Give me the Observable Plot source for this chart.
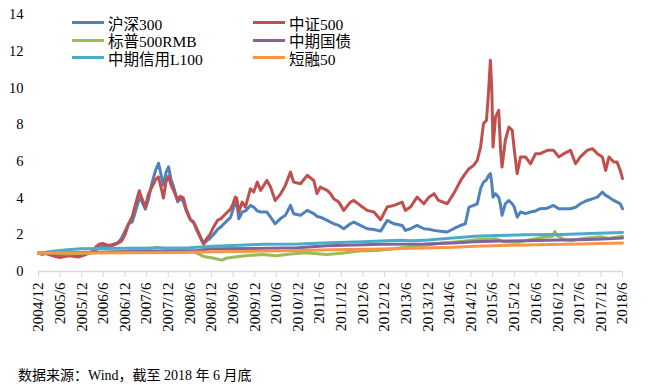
<!DOCTYPE html>
<html><head><meta charset="utf-8">
<script src="https://cdn.jsdelivr.net/npm/d3@7"></script>
<script src="https://cdn.jsdelivr.net/npm/@observablehq/plot@0.6"></script>
<style>
body{margin:0;background:#fff;}
#wrap{position:relative;width:659px;height:385px;overflow:hidden;}
#legend{position:absolute;left:72px;top:14px;display:grid;grid-template-columns:181px auto;grid-auto-rows:17.5px;font-family:"Liberation Serif","Noto Sans CJK SC",serif;font-size:15.5px;color:#000;}
#legend .it{display:flex;align-items:center;white-space:nowrap;}
#legend .sw{width:32px;height:3px;margin-right:4px;}
#cap{padding-left:18px;font-family:"Liberation Serif","Noto Sans CJK SC",serif;font-size:14px;line-height:20px;color:#000;}
</style></head>
<body><div id="wrap"><div id="chart"></div><div id="legend"></div><div id="cap">数据来源：Wind，截至 2018 年 6 月底</div></div>
<script>
const seriesNames = ["沪深300","中证500","标普500RMB","中期国债","中期信用L100","短融50"];
const seriesColors = ["#4f81bd","#c0504d","#9bbb59","#8064a2","#4bacc6","#f79646"];
const legendOrder = ["沪深300","中证500","标普500RMB","中期国债","中期信用L100","短融50"];
const tickLabels = ["2004/12","2005/6","2005/12","2006/6","2006/12","2007/6","2007/12","2008/6","2008/12","2009/6","2009/12","2010/6","2010/12","2011/6","2011/12","2012/6","2012/12","2013/6","2013/12","2014/6","2014/12","2015/6","2015/12","2016/6","2016/12","2017/6","2017/12","2018/6"];
const yTicks = [0,2,4,6,8,10,12,14];

const eqDates = ["2004-12-01","2005-01-01","2005-02-01","2005-03-01","2005-04-01","2005-05-01","2005-06-01","2005-07-01","2005-08-01","2005-09-01","2005-10-01","2005-11-01","2005-12-01",
"2006-01-01","2006-02-01","2006-03-01","2006-04-01","2006-05-01","2006-06-01","2006-07-01","2006-08-01","2006-09-01","2006-10-01","2006-11-01","2006-12-01",
"2007-01-01","2007-02-01","2007-03-01","2007-04-01","2007-04-16","2007-05-22","2007-06-16","2007-07-16","2007-08-16","2007-09-10","2007-10-01","2007-10-22","2007-11-13","2007-12-04","2007-12-25",
"2008-01-16","2008-02-19","2008-03-13","2008-04-07","2008-05-01","2008-06-07","2008-07-01","2008-08-01","2008-09-01","2008-09-25","2008-10-16","2008-11-16","2008-12-16",
"2009-01-22","2009-02-16","2009-03-16","2009-04-16","2009-05-10","2009-06-01","2009-06-19","2009-07-01","2009-07-19","2009-08-16","2009-09-13","2009-10-25","2009-11-22","2009-12-22",
"2010-01-19","2010-03-13","2010-04-13","2010-05-22","2010-07-04","2010-08-16","2010-09-28","2010-10-25","2010-12-22",
"2011-02-16","2011-04-13","2011-05-10","2011-06-07","2011-08-04","2011-09-01","2011-09-28","2011-11-10","2011-12-22",
"2012-02-16","2012-03-16","2012-05-10","2012-07-07","2012-09-01","2012-10-28","2012-12-22",
"2013-02-19","2013-04-28","2013-05-25","2013-07-07","2013-09-01","2013-10-28","2013-12-10",
"2014-01-22","2014-03-01","2014-05-13","2014-07-07","2014-09-04","2014-10-13","2014-11-13","2014-12-22",
"2015-01-22","2015-02-19","2015-03-16","2015-04-10","2015-04-28","2015-05-13","2015-05-25","2015-06-04","2015-06-25","2015-07-22","2015-08-07","2015-08-19","2015-09-16","2015-10-16","2015-11-13","2015-12-01","2015-12-25",
"2016-01-22","2016-03-04","2016-04-16","2016-05-28","2016-07-07","2016-09-04","2016-10-28","2016-12-10",
"2017-01-22","2017-03-19","2017-05-01","2017-06-10","2017-08-07","2017-09-19","2017-11-01","2017-12-13",
"2018-01-10","2018-02-07","2018-03-19","2018-04-16","2018-05-13","2018-06-01"];
const hs300 = [1.00,0.95,0.99,0.95,0.90,0.86,0.84,0.87,0.91,0.92,0.89,0.87,0.90,
0.96,1.02,1.06,1.18,1.32,1.40,1.36,1.38,1.45,1.55,1.80,2.20,
2.60,2.70,3.30,4.00,3.90,3.40,3.90,4.80,5.50,5.90,5.30,4.70,5.40,5.70,5.00,
4.60,3.80,4.00,3.80,3.30,2.80,2.70,2.20,1.80,1.50,1.65,1.80,2.00,
2.30,2.42,2.60,2.80,2.95,3.40,3.70,3.85,2.87,3.24,3.30,3.60,3.51,3.30,
3.24,3.24,2.96,2.60,2.87,3.06,3.60,3.15,3.06,
3.33,3.15,3.00,2.96,2.78,2.69,2.60,2.51,2.33,
2.60,2.69,2.51,2.33,2.29,2.20,2.78,
2.60,2.51,2.24,2.33,2.51,2.33,2.30,
2.24,2.20,2.15,2.33,2.51,2.60,3.51,3.60,
3.69,4.51,4.87,5.00,5.24,5.33,4.80,4.05,4.24,4.05,3.60,3.06,3.69,3.87,3.69,3.50,2.96,
3.24,3.15,3.24,3.30,3.42,3.45,3.60,3.42,
3.42,3.42,3.50,3.69,3.87,3.96,4.05,4.33,
4.15,4.05,3.87,3.78,3.69,3.42];
const zz500 = [1.00,0.94,0.98,0.92,0.86,0.80,0.76,0.80,0.84,0.86,0.81,0.79,0.84,
0.92,1.00,1.08,1.35,1.50,1.52,1.45,1.43,1.50,1.55,1.65,2.00,
2.60,3.00,3.70,4.40,4.10,3.50,4.20,4.60,5.00,5.15,4.60,4.00,4.90,5.20,4.70,
4.40,3.90,4.10,4.00,3.40,2.80,2.70,2.30,1.85,1.50,1.75,2.00,2.40,
2.80,2.87,3.05,3.25,3.40,3.70,4.05,4.00,3.24,3.78,3.51,4.51,4.33,4.87,
4.42,4.96,4.60,3.87,4.20,4.69,5.42,4.87,4.78,
5.24,4.96,4.24,4.60,4.42,4.24,3.96,3.78,3.33,
3.78,3.87,3.60,3.33,3.24,2.82,3.51,
3.60,3.78,3.33,3.51,4.05,3.69,4.05,
4.24,3.87,3.69,4.24,4.96,5.33,5.60,5.78,
6.06,6.78,8.06,8.24,9.87,11.51,9.87,6.78,8.42,8.78,6.60,5.69,7.15,7.87,7.69,6.60,5.33,
6.24,6.24,5.87,6.42,6.42,6.60,6.60,6.24,
6.42,6.60,5.87,6.24,6.60,6.69,6.42,6.24,
5.51,6.24,5.96,5.96,5.51,5.06];

const spDates = ["2004-12-01","2005-03-01","2005-07-01","2005-12-01","2006-06-01","2006-12-01","2007-06-01","2007-09-01","2007-12-01","2008-04-01","2008-07-01","2008-09-25","2008-12-01","2009-02-28","2009-04-01","2009-07-01","2009-10-01","2010-02-01","2010-06-01","2010-10-01","2011-02-01","2011-08-01","2011-12-01","2012-05-01","2012-10-01","2013-02-01","2013-07-01","2013-11-01","2014-04-01","2014-10-01","2015-02-01","2015-07-01","2015-09-01","2016-01-01","2016-04-01","2016-08-01","2016-10-16","2016-11-07","2016-11-25","2017-02-01","2017-04-01","2017-08-01","2017-12-01","2018-02-01","2018-06-01"];
const sp500 = [1.00,1.02,0.96,0.99,1.03,1.12,1.22,1.32,1.22,1.12,1.08,0.82,0.75,0.62,0.72,0.80,0.87,0.92,0.86,0.95,1.02,0.92,1.00,1.12,1.15,1.22,1.35,1.42,1.55,1.65,1.75,1.78,1.62,1.60,1.72,1.87,1.90,2.18,1.95,1.72,1.69,1.82,1.90,1.80,1.92];

const govDates = ["2004-12-01","2005-12-01","2006-12-01","2007-12-01","2008-08-01","2008-12-01","2009-12-01","2010-12-01","2011-08-01","2012-11-01","2013-11-01","2014-07-01","2015-01-01","2015-08-01","2016-03-01","2017-01-01","2017-11-01","2018-06-01"];
const govBond = [1.00,1.04,1.08,1.10,1.14,1.24,1.25,1.30,1.40,1.48,1.50,1.55,1.62,1.66,1.68,1.72,1.76,1.82];

const creditDates = ["2004-12-01","2005-04-01","2005-08-01","2005-12-01","2006-12-01","2007-12-01","2008-06-01","2008-12-01","2009-06-01","2010-02-01","2010-12-01","2011-09-01","2012-06-01","2013-04-01","2013-08-01","2013-12-01","2014-07-01","2015-01-01","2015-07-01","2016-03-01","2017-01-01","2017-11-01","2018-06-01"];
const credit = [1.00,1.10,1.18,1.24,1.27,1.28,1.30,1.38,1.42,1.48,1.50,1.56,1.62,1.70,1.68,1.72,1.82,1.92,1.96,2.00,2.02,2.08,2.13];

const cpDates = ["2004-12-01","2006-12-01","2008-04-01","2008-12-01","2009-12-01","2010-12-01","2011-09-01","2012-11-01","2013-11-01","2014-07-01","2015-01-01","2016-03-01","2017-06-01","2018-06-01"];
const cp50 = [1.00,1.02,1.04,1.07,1.10,1.14,1.19,1.23,1.28,1.32,1.38,1.45,1.50,1.55];

const parseTick = s => { const [y, m] = s.split("/").map(Number); return new Date(Date.UTC(y, m - 1, 1)); };
const tickDates = tickLabels.map(parseTick);
const labelOf = new Map(tickDates.map((d, i) => [+d, tickLabels[i]]));
const toRows = (dates, vals) => dates.map((d, i) => ({date: new Date(d + "T00:00:00Z"), value: vals[i]}));

const seriesData = [
  toRows(eqDates, hs300),
  toRows(eqDates, zz500),
  toRows(spDates, sp500),
  toRows(govDates, govBond),
  toRows(creditDates, credit),
  toRows(cpDates, cp50)
];

const chart = Plot.plot({
  width: 659, height: 366,
  marginLeft: 38, marginRight: 37, marginTop: 14, marginBottom: 95,
  style: {fontFamily: "'Liberation Serif','Times New Roman',serif", fontSize: "15px", color: "#000", background: "#fff", overflow: "visible"},
  x: {type: "utc", domain: [tickDates[0], tickDates[tickDates.length - 1]]},
  y: {domain: [0, 14]},
  marks: [
    Plot.ruleY([0], {stroke: "#d9d9d9", strokeWidth: 1.3}),
    Plot.axisX({ticks: tickDates, tickFormat: d => labelOf.get(+d), tickRotate: -90, tickSize: 6, tickPadding: 5, stroke: "#d9d9d9", fill: "#000", label: null, fontSize: 15}),
    Plot.axisY({ticks: yTicks, tickSize: 0, tickPadding: 15, label: null, fontSize: 14.5}),
    ...seriesData.map((rows, i) => Plot.line(rows, {x: "date", y: "value", stroke: seriesColors[i], strokeWidth: 3, strokeLinejoin: "round"}))
  ]
});
document.getElementById("chart").appendChild(chart);

const leg = document.getElementById("legend");
legendOrder.forEach(name => {
  const i = seriesNames.indexOf(name);
  const it = document.createElement("div"); it.className = "it";
  const sw = document.createElement("div"); sw.className = "sw"; sw.style.background = seriesColors[i];
  const tx = document.createElement("span"); tx.textContent = name;
  it.appendChild(sw); it.appendChild(tx); leg.appendChild(it);
});
</script></body></html>
